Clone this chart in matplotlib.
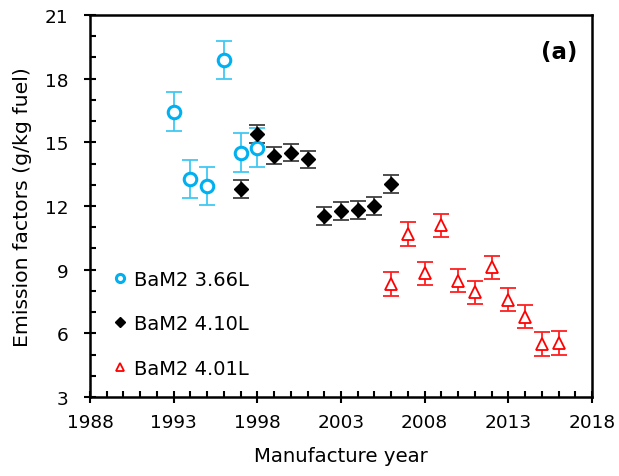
import matplotlib
matplotlib.use('Agg')
import matplotlib.pyplot as plt
from matplotlib.ticker import MultipleLocator

plt.rcParams['font.family'] = ['DejaVu Sans']

# BaM2 3.66L
years_a = [1993, 1994, 1995, 1996, 1997, 1998]
ef_a = [16.45, 13.27, 12.93, 18.89, 14.51, 14.75]
err_a = [0.92, 0.9, 0.9, 0.9, 0.91, 0.9]

# BaM2 4.10L
years_b = [1997, 1998, 1999, 2000, 2001, 2002, 2003, 2004, 2005, 2006]
ef_b = [12.79, 15.38, 14.37, 14.5, 14.2, 11.51, 11.78, 11.8, 11.98, 13.05]
err_b = [0.43, 0.43, 0.4, 0.4, 0.4, 0.42, 0.42, 0.42, 0.42, 0.42]

# BaM2 4.01L
years_c = [2006, 2007, 2008, 2009, 2010, 2011, 2012, 2013, 2014, 2015, 2016]
ef_c = [8.32, 10.68, 8.82, 11.08, 8.48, 7.93, 9.11, 7.58, 6.78, 5.5, 5.54]
err_c = [0.56, 0.55, 0.55, 0.55, 0.55, 0.55, 0.55, 0.55, 0.55, 0.55, 0.55]

labels = ['BaM2 3.66L', 'BaM2 4.10L', 'BaM2 4.01L']
xticks = [1988, 1993, 1998, 2003, 2008, 2013, 2018]

fig = plt.figure(figsize=(6.19, 4.77), dpi=100)
ax = fig.add_axes([0.1454, 0.1656, 0.811, 0.801])

blue = '#00B0F0'
red = '#FF0000'

ax.errorbar(years_a, ef_a, yerr=err_a, fmt='none', ecolor='#40C8F2',
            elinewidth=1.3, capsize=6, capthick=1.3, zorder=2)
ax.errorbar(years_b, ef_b, yerr=err_b, fmt='none', ecolor='#404040',
            elinewidth=1.3, capsize=6, capthick=1.3, zorder=2)
ax.errorbar(years_c, ef_c, yerr=err_c, fmt='none', ecolor='#FF2020',
            elinewidth=1.3, capsize=6, capthick=1.3, zorder=2)

h1, = ax.plot(years_a, ef_a, 'o', ls='none', mfc='white', mec=blue,
              mew=2.2, ms=9, zorder=3)
h2, = ax.plot(years_b, ef_b, 'D', ls='none', mfc='black', mec='black',
              ms=7.5, zorder=3)
h3, = ax.plot(years_c, ef_c, '^', ls='none', mfc='white', mec=red,
              mew=1.3, ms=9, zorder=3)

ax.set_xlim(1988, 2018)
ax.set_ylim(3, 21)
ax.set_xticks(xticks)
ax.xaxis.set_minor_locator(MultipleLocator(1))
ax.yaxis.set_major_locator(MultipleLocator(3))
ax.yaxis.set_minor_locator(MultipleLocator(1))

ax.tick_params(which='major', direction='inout', length=9, width=1.5,
               labelsize=13.3)
ax.tick_params(axis='y', which='major', pad=11)
ax.tick_params(axis='x', which='major', pad=7)
ax.tick_params(which='minor', direction='in', length=4.5, width=1.5)
for s in ax.spines.values():
    s.set_linewidth(1.8)

ax.set_xlabel('Manufacture year', fontsize=14.2, labelpad=11)
ax.set_ylabel('Emission factors (g/kg fuel)', fontsize=14.7, labelpad=9)

ax.text(0.97, 0.905, '(a)', transform=ax.transAxes, fontsize=16.5,
        fontweight='bold', ha='right', va='center')

leg = ax.legend([h1, h2, h3], labels, loc='lower left',
                bbox_to_anchor=(0.009, 0.0), frameon=False, fontsize=14,
                markerscale=0.65, handlelength=0.6, handletextpad=0.45,
                labelspacing=1.31, borderaxespad=0.6)

fig.savefig('out.png', dpi=100)
